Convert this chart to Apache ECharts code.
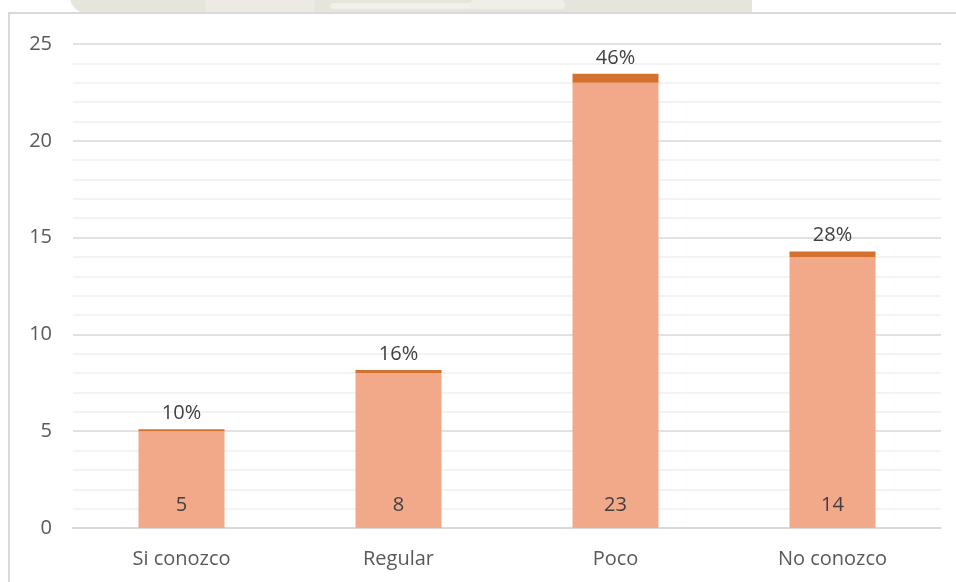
<!DOCTYPE html>
<html>
<head>
<meta charset="utf-8">
<script src="https://cdn.jsdelivr.net/npm/echarts@6/dist/echarts.min.js"></script>
<style>
  html, body { margin: 0; padding: 0; background: #ffffff; }
  #chart { width: 956px; height: 582px; }
</style>
</head>
<body>
<div id="chart"></div>
<script>
// Categories and survey counts
const categories = ['Si conozco', 'Regular', 'Poco', 'No conozco'];
const counts = [5, 8, 23, 14];
// Share of respondents (fraction), stacked as a thin cap above each count bar
const shares = [0.10, 0.16, 0.46, 0.28];
const yTicks = [0, 5, 10, 15, 20, 25];

const FONT = '"Open Sans", "Noto Sans", sans-serif';
const chart = echarts.init(document.getElementById('chart'), null, { renderer: 'canvas' });

chart.setOption({
  animation: false,
  backgroundColor: '#ffffff',
  graphic: [
    // faint seal band behind the top edge of the frame
    { type: 'rect', shape: { x: 70, y: -10, width: 682, height: 23, r: [0, 0, 0, 16] }, style: { fill: '#e6e5db' }, z: 0 },
    { type: 'rect', shape: { x: 205, y: 0, width: 110, height: 13, r: 4 }, style: { fill: '#eceae2' }, z: 0 },
    { type: 'rect', shape: { x: 330, y: 3, width: 160, height: 6, r: 3 }, style: { fill: '#f1f0ea' }, z: 0 },
    { type: 'rect', shape: { x: 470, y: 0, width: 95, height: 9, r: 4 }, style: { fill: '#efeee8' }, z: 0 },
    // chart frame
    { type: 'rect', shape: { x: 9, y: 13, width: 960, height: 600 },
      style: { fill: null, stroke: '#d9d9d9', lineWidth: 2 }, z: 1 }
  ],
  grid: { left: 73, right: 15, top: 44, bottom: 54, containLabel: false },
  xAxis: {
    type: 'category',
    data: categories,
    axisLine: { show: true, lineStyle: { color: '#d9d9d9', width: 2 } },
    axisTick: { show: false },
    axisLabel: { color: '#595959', fontSize: 20, fontFamily: FONT, margin: 21 }
  },
  yAxis: {
    type: 'value',
    min: yTicks[0],
    max: yTicks[yTicks.length - 1],
    interval: 5,
    axisLine: { show: false },
    axisTick: { show: false },
    axisLabel: { color: '#595959', fontSize: 20, fontFamily: FONT, margin: 21 },
    splitLine: { show: true, lineStyle: { color: '#d9d9d9', width: 1.5 } },
    minorTick: { show: false, splitNumber: 5 },
    minorSplitLine: { show: true, lineStyle: { color: '#f0f0f0', width: 1.5 } }
  },
  series: [
    {
      name: 'Cantidad',
      type: 'bar',
      stack: 'total',
      data: counts,
      barWidth: 86,
      itemStyle: { color: '#f1a98a' },
      label: {
        show: true,
        position: 'insideBottom',
        distance: 13,
        color: '#404040',
        fontSize: 20,
        fontFamily: FONT
      }
    },
    {
      name: 'Porcentaje',
      type: 'bar',
      stack: 'total',
      data: shares,
      barWidth: 86,
      itemStyle: { color: '#d5712e' },
      label: {
        show: true,
        position: 'top',
        distance: 6,
        color: '#404040',
        fontSize: 20,
        fontFamily: FONT,
        formatter: p => Math.round(p.value * 100) + '%'
      }
    }
  ]
});
</script>
</body>
</html>
